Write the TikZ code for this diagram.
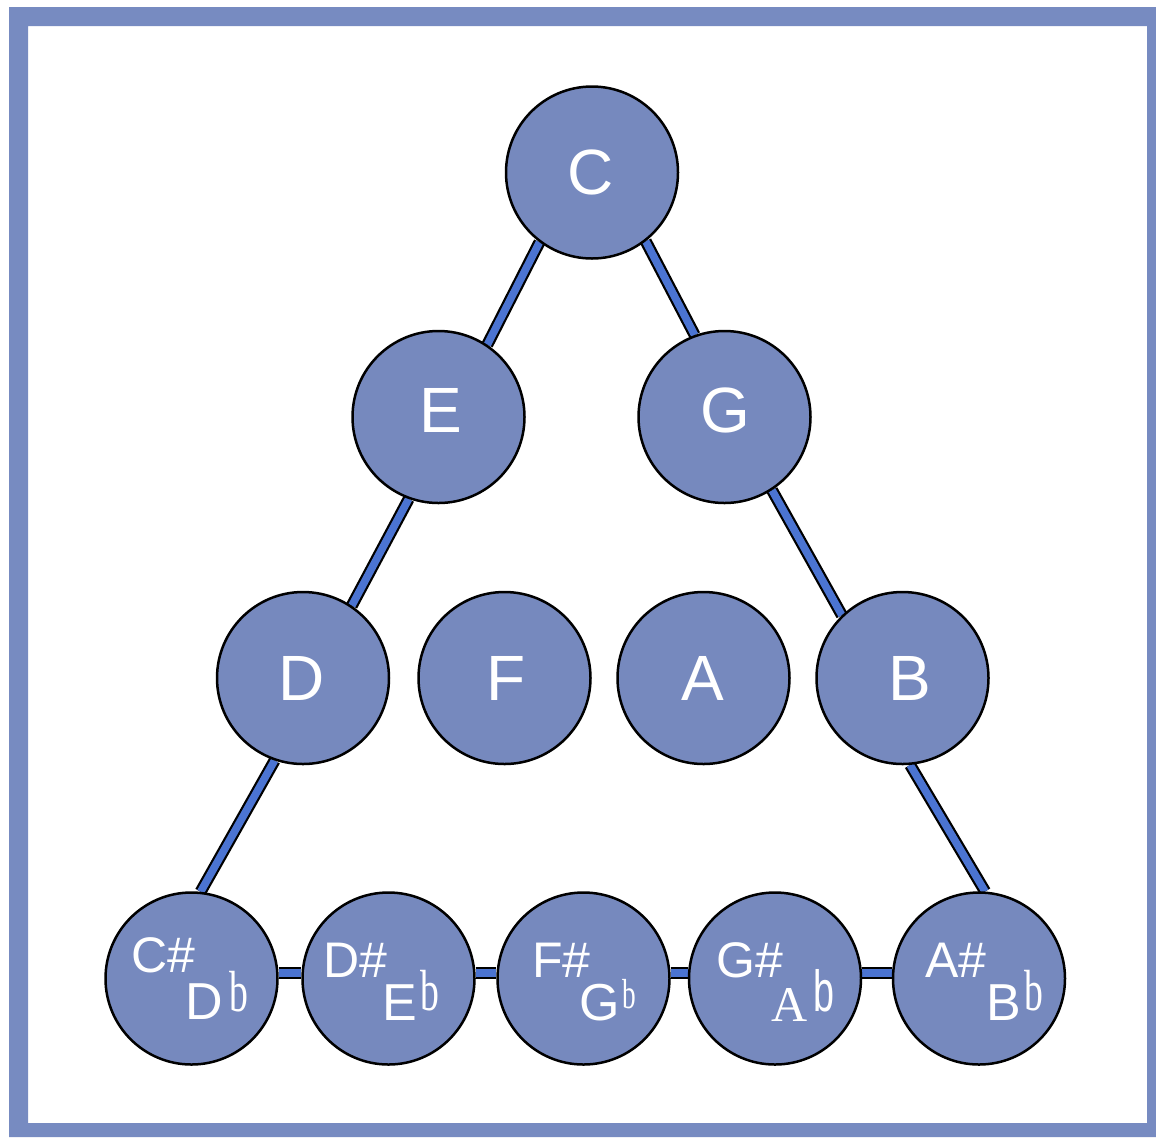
\documentclass[tikz,border=0pt]{standalone}
\usepackage{fontspec}
\setmainfont{Liberation Sans}
\newfontfamily\serifb{Liberation Serif}
\usetikzlibrary{backgrounds}
\definecolor{framecol}{HTML}{778BC1}
\definecolor{nodefill}{HTML}{7689BE}
\definecolor{linkblue}{HTML}{4B74D2}
\tikzset{
  note/.style={circle, draw=black, line width=1.25pt, fill=nodefill, minimum size=86pt, inner sep=0pt},
  link/.style={draw=black, line width=1.1pt, double=linkblue, double distance=3.8pt},
  big/.style={text=white, font=\fontsize{32}{32}\selectfont, anchor=base, inner sep=0pt},
  sharp/.style={text=white, font=\fontsize{25}{25}\selectfont, anchor=base west, inner sep=0pt},
  flatl/.style={text=white, font=\fontsize{26}{26}\selectfont, anchor=base west, inner sep=0pt},
  flatb/.style={text=white, font=\serifb\fontsize{29}{29}\selectfont, anchor=base west, inner sep=0pt},
}
\newcommand{\nb}{\scalebox{0.65}[1]{b}}
\begin{document}
\begin{tikzpicture}[x={(0.5pt,0)}, y={(0,-0.5pt)}]
\useasboundingbox (0,0) rectangle (1156,1137);
\fill[framecol, even odd rule] (9,7) rectangle (1156,1137) (28,26) rectangle (1147,1123);

% circles
\node[note] (C) at (592,172.5) {};
\node[note] (E) at (438.5,417) {};
\node[note] (G) at (724.5,417) {};
\node[note] (D) at (303,678) {};
\node[note] (F) at (504.5,678) {};
\node[note] (A) at (703.5,678) {};
\node[note] (B) at (902.5,678) {};
\node[note] (Cs) at (191.5,978.5) {};
\node[note] (Ds) at (388.5,978.5) {};
\node[note] (Fs) at (583.5,978.5) {};
\node[note] (Gs) at (775,978.5) {};
\node[note] (As) at (979,978.5) {};

% connectors (behind circles)
\begin{scope}[on background layer]
\draw[link] (C.233.8) -- (E.56.9);
\draw[link] (C.308.8) -- (G.110);
\draw[link] (E.250.3) -- (D.56.5);
\draw[link] (G.303.9) -- (B.134);
\draw[link] (D.251.1) -- (Cs.84.6);
\draw[link] (B.275.4) -- (As.86);
\draw[link] ([yshift=2.75pt]Cs.east) -- ([yshift=2.75pt]Ds.west);
\draw[link] ([yshift=2.75pt]Ds.east) -- ([yshift=2.75pt]Fs.west);
\draw[link] ([yshift=2.75pt]Fs.east) -- ([yshift=2.75pt]Gs.west);
\draw[link] ([yshift=2.75pt]Gs.east) -- ([yshift=2.75pt]As.west);
\end{scope}

% labels
\node[big] (lC) at (591,194) {C};
\node[big] (lE) at (441,432) {E};
\node[big] (lG) at (725,432) {G};
\node[big] (lD) at (302,700) {D};
\node[big] (lF) at (506,700) {F};
\node[big] (lA) at (703,700) {A};
\node[big] (lB) at (910,700) {B};

\node[sharp] (s1) at (131,972) {C\#};
\node[flatl] (f1) at (185,1019) {D};
\node[flatb] (b1) at (229,1011) {\nb};

\node[sharp] (s2) at (323,977) {D\#};
\node[flatl] (f2) at (382,1020) {E};
\node[flatb] (b2) at (420,1010) {\nb};

\node[sharp] (s3) at (532,977) {F\#};
\node[flatl] (f3) at (579,1020) {G};
\node[text=white, font=\serifb\fontsize{21}{21}\selectfont, anchor=base west, inner sep=0pt] (b3) at (622,1008) {\nb};

\node[sharp] (s4) at (716,977) {G\#};
\node[text=white, font=\serifb\fontsize{25}{25}\selectfont, anchor=base west, inner sep=0pt] (f4) at (771,1021) {A};
\node[text=white, font=\fontsize{29}{29}\selectfont, anchor=base west, inner sep=0pt] (b4) at (813,1011) {\nb};

\node[sharp] (s5) at (925,977) {A\#};
\node[flatl] (f5) at (986,1020) {B};
\node[flatb] (b5) at (1024,1010) {\nb};
\end{tikzpicture}
\end{document}
